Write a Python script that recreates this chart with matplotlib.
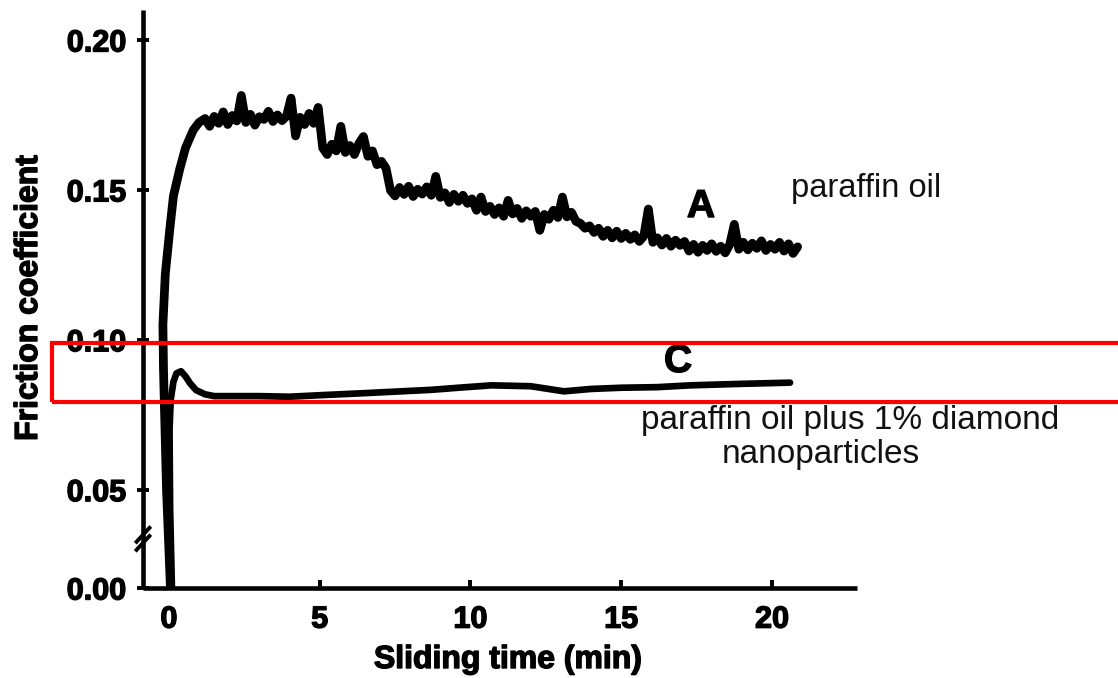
import numpy as np
import matplotlib
matplotlib.use("Agg")
import matplotlib.pyplot as plt
from matplotlib.patches import Rectangle
import matplotlib.patheffects as pe

# ---------------- data ----------------
# Curve A: paraffin oil
a_time_rise = [0.05, -0.08, -0.18, -0.20, -0.12, 0.03, 0.15, 0.36, 0.55, 0.81, 1.00]
a_mu_rise = [0.000, 0.050, 0.090, 0.105, 0.122, 0.137, 0.148, 0.157, 0.164, 0.1700, 0.1725]

a_time = [1.20, 1.35, 1.50, 1.65, 1.80, 1.95, 2.10, 2.25, 2.40, 2.55, 2.70, 2.85,
          3.00, 3.15, 3.30, 3.45, 3.60, 3.75, 3.90, 4.05, 4.20, 4.35, 4.50, 4.65,
          4.80, 4.95, 5.10, 5.25, 5.40, 5.55, 5.70, 5.85, 6.00, 6.15, 6.30, 6.45,
          6.60, 6.75, 6.90, 7.05, 7.20, 7.35, 7.50, 7.65, 7.80, 7.95, 8.10, 8.25,
          8.40, 8.55, 8.70, 8.85, 9.00, 9.15, 9.30, 9.45, 9.60, 9.75, 9.90, 10.05,
          10.20, 10.35, 10.50, 10.65, 10.80, 10.95, 11.10, 11.25, 11.40, 11.55, 11.70, 11.85,
          12.00, 12.15, 12.30, 12.45, 12.60, 12.75, 12.90, 13.05, 13.20, 13.35, 13.50, 13.65,
          13.80, 13.95, 14.10, 14.25, 14.40, 14.55, 14.70, 14.85, 15.00, 15.15, 15.30, 15.45,
          15.60, 15.75, 15.90, 16.05, 16.20, 16.35, 16.50, 16.65, 16.80, 16.95, 17.10, 17.25,
          17.40, 17.55, 17.70, 17.85, 18.00, 18.15, 18.30, 18.45, 18.60, 18.75, 18.90, 19.05,
          19.20, 19.35, 19.50, 19.65, 19.80, 19.95, 20.10, 20.25, 20.40, 20.55, 20.70, 20.85]
a_mu = [0.1738, 0.1712, 0.1745, 0.1722, 0.1760, 0.1718, 0.1748, 0.1730, 0.1815, 0.1725, 0.1752, 0.1716,
        0.1744, 0.1735, 0.1762, 0.1728, 0.1750, 0.1731, 0.1746, 0.1806, 0.1680, 0.1742, 0.1718, 0.1755,
        0.1722, 0.1775, 0.1640, 0.1618, 0.1652, 0.1630, 0.1712, 0.1625, 0.1648, 0.1618, 0.1655, 0.1678,
        0.1612, 0.1630, 0.1584, 0.1595, 0.1572, 0.1498, 0.1480, 0.1508, 0.1485, 0.1512, 0.1478, 0.1502,
        0.1486, 0.1510, 0.1482, 0.1545, 0.1475, 0.1490, 0.1458, 0.1485, 0.1462, 0.1482, 0.1455, 0.1470,
        0.1432, 0.1476, 0.1428, 0.1445, 0.1418, 0.1440, 0.1412, 0.1465, 0.1420, 0.1438, 0.1405, 0.1430,
        0.1412, 0.1428, 0.1365, 0.1418, 0.1402, 0.1432, 0.1408, 0.1476, 0.1410, 0.1425, 0.1395, 0.1388,
        0.1372, 0.1380, 0.1358, 0.1372, 0.1345, 0.1365, 0.1340, 0.1362, 0.1338, 0.1355, 0.1335, 0.1350,
        0.1328, 0.1346, 0.1436, 0.1325, 0.1340, 0.1316, 0.1338, 0.1312, 0.1332, 0.1315, 0.1328, 0.1296,
        0.1318, 0.1292, 0.1315, 0.1298, 0.1320, 0.1295, 0.1312, 0.1290, 0.1318, 0.1385, 0.1302, 0.1325,
        0.1300, 0.1322, 0.1305, 0.1330, 0.1298, 0.1318, 0.1302, 0.1325, 0.1296, 0.1320, 0.1288, 0.1310]

# Curve C: paraffin oil plus 1% diamond nanoparticles
c_time = [0.10, 0.04, 0.02, 0.06, 0.15, 0.25, 0.40, 0.55, 0.70, 0.90, 1.20, 1.50, 2.0, 3.0,
          4.0, 5.0, 6.5, 7.7, 8.7, 9.6, 10.7, 12.0, 13.1, 14.0, 15.0, 16.2, 17.3, 19.0, 20.6]
c_mu = [0.000, 0.040, 0.070, 0.080, 0.0860, 0.0888, 0.0895, 0.0878, 0.0855, 0.0832, 0.0818, 0.0812,
        0.0812, 0.0812, 0.0810, 0.0815, 0.0822, 0.0828, 0.0833, 0.0840, 0.0848, 0.0845, 0.0828,
        0.0836, 0.0840, 0.0842, 0.0848, 0.0853, 0.0857]

x_ticks = [0, 5, 10, 15, 20]
y_ticks = [0.00, 0.05, 0.10, 0.15, 0.20]
y_ticklabels = ["0.00", "0.05", "0.10", "0.15", "0.20"]

# ---------------- figure ----------------
W, H = 1118, 678
fig = plt.figure(figsize=(W / 100, H / 100), dpi=100)
fig.patch.set_facecolor("white")

ax_left, ax_right, ax_bot, ax_top = 143, 857, 588, 10
ax = fig.add_axes([ax_left / W, 1 - ax_bot / H, (ax_right - ax_left) / W, (ax_bot - ax_top) / H])

# broken y axis: compress region below 0.05
K = 0.656
def fwd(y):
    y = np.asarray(y, dtype=float)
    return np.where(y >= 0.05, y, 0.05 - (0.05 - y) * K)

def inv(z):
    z = np.asarray(z, dtype=float)
    return np.where(z >= 0.05, z, 0.05 - (0.05 - z) / K)

ax.set_yscale("function", functions=(fwd, inv))

HEAVY = [pe.withStroke(linewidth=1.0, foreground="black")]
BOLD = dict(family=["Liberation Sans", "DejaVu Sans"], weight="bold")

ax.plot(a_time_rise + a_time, a_mu_rise + a_mu, color="black", lw=6.3,
        solid_joinstyle="round", solid_capstyle="round", zorder=3)
ax.plot(c_time, c_mu, color="black", lw=4.8,
        solid_joinstyle="round", solid_capstyle="round", zorder=3)

ax.set_xlim(-0.86, 22.82)
ax.set_ylim(0.0, 0.2100)

for s in ["top", "right"]:
    ax.spines[s].set_visible(False)
for s in ["left", "bottom"]:
    ax.spines[s].set_linewidth(3.3)
    ax.spines[s].set_color("black")
    ax.spines[s].set_capstyle("butt")

ax.set_xticks(x_ticks)
ax.set_xticklabels([str(t) for t in x_ticks], fontsize=22, **BOLD)
ax.set_yticks(y_ticks)
ax.set_yticklabels(y_ticklabels, fontsize=22, **BOLD)
for lab in ax.get_xticklabels() + ax.get_yticklabels():
    lab.set_path_effects(HEAVY)
ax.minorticks_off()
ax.tick_params(axis="x", direction="in", length=6, width=2.8, pad=12)
ax.tick_params(axis="y", direction="inout", length=8, width=2.8, pad=8)

# axis break mark on y axis
bx = 0.0
for yy in (0.078, 0.092):
    ax.plot([bx - 0.009, bx + 0.009], [yy - 0.012, yy + 0.012], transform=ax.transAxes,
            color="black", lw=2.8, clip_on=False, zorder=5)

# labels
fig.text(29 / W, 1 - 298 / H, "Friction coefficient", rotation=90, ha="center", va="center",
         fontsize=23, path_effects=HEAVY, **BOLD)
fig.text(508 / W, 1 - 660 / H, "Sliding time (min)", ha="center", va="center",
         fontsize=23, path_effects=HEAVY, **BOLD)

# annotations
REG = dict(family=["Liberation Sans", "DejaVu Sans"], color="#111111")
fig.text(701 / W, 1 - 207 / H, "A", ha="center", va="center", fontsize=28, path_effects=HEAVY, **BOLD)
fig.text(678 / W, 1 - 362 / H, "C", ha="center", va="center", fontsize=28, path_effects=HEAVY, **BOLD)
fig.text(866 / W, 1 - 188 / H, "paraffin oil", ha="center", va="center", fontsize=23.5, **REG)
fig.text(850 / W, 1 - 421 / H, "paraffin oil plus 1% diamond", ha="center", va="center",
         fontsize=24, **REG)
fig.text(821 / W, 1 - 455 / H, "nanoparticles", ha="center", va="center", fontsize=24, **REG)

# red highlight box
rect = Rectangle((52 / W, 1 - 402 / H), (W + 20 - 52) / W, (402 - 343) / H,
                 transform=fig.transFigure, fill=False, edgecolor="#ff0000", lw=3.0,
                 zorder=10, clip_on=False)
fig.patches.append(rect)

fig.savefig("out.png", dpi=100, facecolor="white")
